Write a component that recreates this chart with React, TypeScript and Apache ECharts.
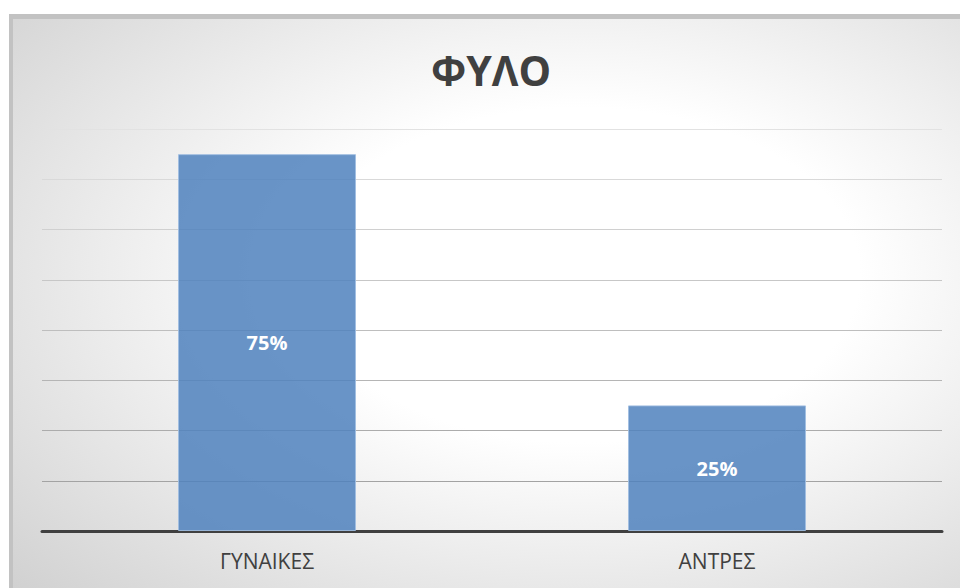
import React, { useEffect, useRef } from "react";
import * as echarts from "echarts";

const categories = ["ΓΥΝΑΙΚΕΣ", "ΑΝΤΡΕΣ"];
const values = [75, 25];
const titleText = "ΦΥΛΟ";
const gridColors = ["#999999", "#a3a3a3", "#acacac", "#b5b5b5", "#bebebe", "#c7c7c7", "#d0d0d0", "#d9d9d9", "#e2e2e2"];

export default function App() {
  const ref = useRef<HTMLDivElement>(null);
  useEffect(() => {
    if (!ref.current) return;
    const chart = echarts.init(ref.current, null, { renderer: "svg" });
    chart.setOption({
      animation: false,
      backgroundColor: "#ffffff",
      graphic: [
        {
          type: "rect",
          z: -10,
          silent: true,
          shape: { x: 9, y: 14, width: 951, height: 574 },
          style: { fill: "#c2c2c2" },
        },
        {
          type: "rect",
          z: -9,
          silent: true,
          shape: { x: 13, y: 19, width: 947, height: 569 },
          style: {
            fill: {
              type: "radial",
              x: 0.6,
              y: 0.45,
              r: 1.05,
              colorStops: [
                { offset: 0, color: "#ffffff" },
                { offset: 0.28, color: "#ffffff" },
                { offset: 1, color: "#bcbcbc" },
              ],
            },
          },
        },
        {
          type: "text",
          x: 491,
          y: 70,
          style: {
            text: titleText,
            fill: "#404040",
            font: "bold 41px 'Open Sans'",
            textAlign: "center",
            textVerticalAlign: "middle",
          },
        },
      ],
      grid: { left: 42, right: 18, top: 129, bottom: 57 },
      xAxis: {
        type: "category",
        data: categories,
        axisLine: { show: true, lineStyle: { color: "#404040", width: 3 } },
        axisTick: { show: false },
        axisLabel: {
          color: "#404040",
          fontFamily: "Open Sans",
          fontSize: 21,
          margin: 19,
        },
      },
      yAxis: {
        type: "value",
        min: 0,
        max: 80,
        interval: 10,
        axisLabel: { show: false },
        axisLine: { show: false },
        axisTick: { show: false },
        splitLine: { show: true, lineStyle: { color: gridColors, width: 1 } },
      },
      series: [
        {
          type: "bar",
          data: values,
          barWidth: 178,
          itemStyle: {
            color: "rgba(79,129,189,0.85)",
            borderColor: "rgba(160,190,225,0.9)",
            borderWidth: 1,
          },
          label: {
            show: true,
            position: "inside",
            formatter: "{c}%",
            color: "#ffffff",
            fontFamily: "Open Sans",
            fontWeight: "bold",
            fontSize: 20,
          },
        },
      ],
    });
    return () => chart.dispose();
  }, []);
  return (
    <div
      ref={ref}
      style={{ position: "fixed", left: 0, top: 0, width: 960, height: 588 }}
    />
  );
}
